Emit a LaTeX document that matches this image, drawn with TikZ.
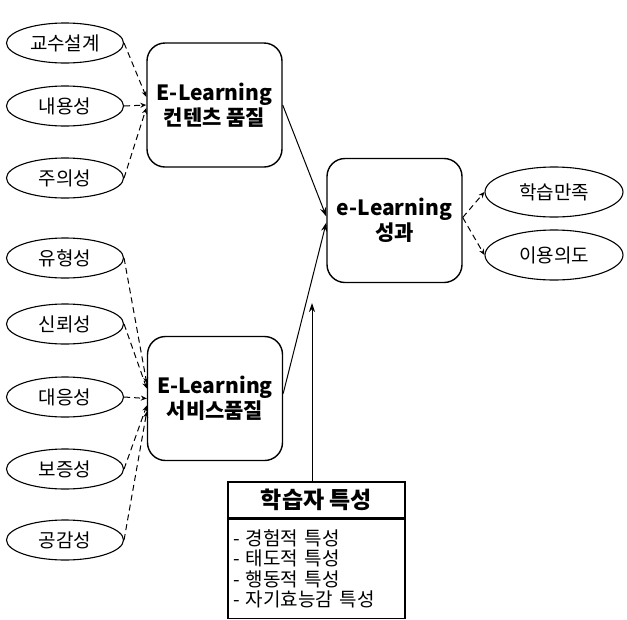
\documentclass[tikz,border=0pt]{standalone}
\usepackage{fontspec}
\setmainfont{Noto Sans CJK KR}
\usetikzlibrary{arrows.meta,shapes.geometric}
\begin{document}
\begin{tikzpicture}[x=1pt,y=-1pt,
 ell/.style={draw,ellipse,line width=1.1pt,minimum width=117pt,minimum height=40pt,font=\fontsize{19}{21}\selectfont,inner sep=0pt},
 rell/.style={ell,minimum width=138pt,minimum height=50pt},
 rbox/.style={draw,rounded corners=18pt,line width=1.4pt,minimum width=135pt,minimum height=124pt,align=center,font=\bfseries\fontsize{21}{25}\selectfont,inner sep=0pt},
 dl/.style={dash pattern=on 6pt off 4pt,line width=1pt,-{Stealth[length=6pt,width=5pt]}},
 sl/.style={line width=1pt,-{Stealth[length=9pt,width=6pt]}},
 lbox/.style={draw,line width=1.2pt,minimum width=177pt,inner sep=0pt}]
\useasboundingbox (0,0) rectangle (627,619);
% left ellipses
\node[ell] (e1) at (65,43) {교수설계};
\node[ell] (e2) at (65,106) {내용성};
\node[ell] (e3) at (65,178) {주의성};
\node[ell] (e4) at (65,258) {유형성};
\node[ell] (e5) at (65,324) {신뢰성};
\node[ell] (e6) at (65,397) {대응성};
\node[ell] (e7) at (65,469) {보증성};
\node[ell] (e8) at (65,540) {공감성};
% boxes
\node[rbox] (b1) at (214.5,105) {E-Learning\\컨텐츠 품질};
\node[rbox] (b2) at (215,398.5) {E-Learning\\서비스품질};
\node[rbox] (b3) at (394.5,220.5) {e-Learning\\성과};
% right ellipses
\node[rell] (r1) at (554,192) {학습만족};
\node[rell] (r2) at (554,255) {이용의도};
% learner box
\node[lbox,minimum height=36pt,font=\bfseries\fontsize{23}{25}\selectfont] (lt) at (316.5,500) {학습자 특성};
\node[lbox,minimum height=99pt,anchor=north,text width=167pt,align=left,font=\fontsize{19}{20.5}\selectfont] (ll) at (lt.south) {- 경험적 특성\\- 태도적 특성\\- 행동적 특성\\- 자기효능감 특성};
% dashed connectors
\draw[dl] (e1.east) -- ([yshift=8pt]b1.west);
\draw[dl] (e2.east) -- (b1.west);
\draw[dl] (e3.east) -- ([yshift=-3pt]b1.west);
\draw[dl] (e4.east) -- ([yshift=15pt]b2.west);
\draw[dl] (e5.east) -- ([yshift=10pt]b2.west);
\draw[dl] (e6.east) -- (b2.west);
\draw[dl] (e7.east) -- ([yshift=-7pt]b2.west);
\draw[dl] (e8.east) -- ([yshift=-13pt]b2.west);
% solid connectors
\draw[sl] (b1.east) -- ([yshift=4pt]b3.west);
\draw[sl] ([yshift=5pt]b2.east) -- ([yshift=-2pt]b3.west);
\coordinate (vt) at (312,303);
\draw[sl] ([xshift=-4.5pt]lt.north) -- (vt);
% outcome connectors
\draw[dl] ([yshift=3pt]b3.east) -- (r1.west);
\draw[dl] ([yshift=3pt]b3.east) -- (r2.west);
\end{tikzpicture}
\end{document}
